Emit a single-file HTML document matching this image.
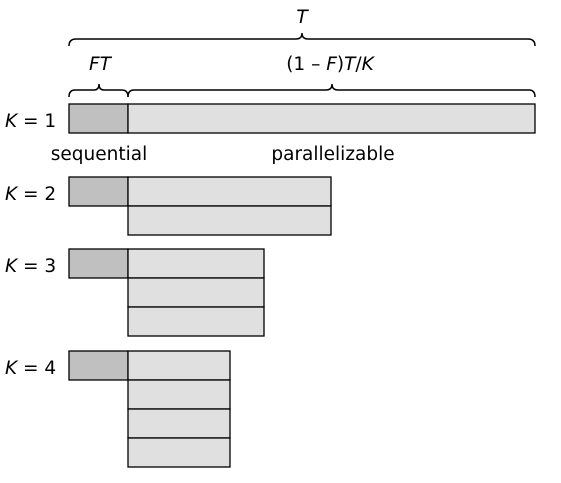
<!DOCTYPE html>
<html><head><style>body{margin:0;background:#fff} text{font-family:"DejaVu Sans","Liberation Sans",sans-serif;font-size:18.5px}</style></head><body>
<svg width="561" height="478" xmlns="http://www.w3.org/2000/svg">
<g fill="none" stroke="#000" stroke-width="1.5">
<path d="M69,46 Q69,39 76,39 L296,39 Q302,39 302,33 Q302,39 308,39 L528,39 Q535,39 535,46"/>
<path d="M69,97 Q69,90 75,90 L94,90 Q99,90 99,84 Q99,90 104,90 L122,90 Q128,90 128,97"/>
<path d="M128,97 Q128,90 134,90 L326,90 Q332,90 332,84 Q332,90 338,90 L529,90 Q535,90 535,97"/>
</g>
<text x="302" y="23" text-anchor="middle" font-style="italic">T</text>
<text x="100" y="70" text-anchor="middle"><tspan font-style="italic">FT</tspan></text>
<text x="330" y="70" text-anchor="middle">(1 – <tspan font-style="italic">F</tspan>)<tspan font-style="italic">T</tspan>/<tspan font-style="italic">K</tspan></text>
<g stroke="#000" stroke-width="1.3">
<rect x="69" y="104" width="59" height="29" fill="#c0c0c0"/>
<rect x="128" y="104" width="407" height="29" fill="#e0e0e0"/>
<rect x="69" y="177" width="59" height="29" fill="#c0c0c0"/>
<rect x="128" y="177" width="203" height="29" fill="#e0e0e0"/>
<rect x="128" y="206" width="203" height="29" fill="#e0e0e0"/>
<rect x="69" y="249" width="59" height="29" fill="#c0c0c0"/>
<rect x="128" y="249" width="136" height="29" fill="#e0e0e0"/>
<rect x="128" y="278" width="136" height="29" fill="#e0e0e0"/>
<rect x="128" y="307" width="136" height="29" fill="#e0e0e0"/>
<rect x="69" y="351" width="59" height="29" fill="#c0c0c0"/>
<rect x="128" y="351" width="102" height="29" fill="#e0e0e0"/>
<rect x="128" y="380" width="102" height="29" fill="#e0e0e0"/>
<rect x="128" y="409" width="102" height="29" fill="#e0e0e0"/>
<rect x="128" y="438" width="102" height="29" fill="#e0e0e0"/>
</g>
<text x="5" y="127"><tspan font-style="italic">K</tspan> = 1</text>
<text x="5" y="200"><tspan font-style="italic">K</tspan> = 2</text>
<text x="5" y="272"><tspan font-style="italic">K</tspan> = 3</text>
<text x="5" y="374"><tspan font-style="italic">K</tspan> = 4</text>
<text x="99" y="160" text-anchor="middle">sequential</text>
<text x="333" y="160" text-anchor="middle">parallelizable</text>
</svg>
</body></html>
